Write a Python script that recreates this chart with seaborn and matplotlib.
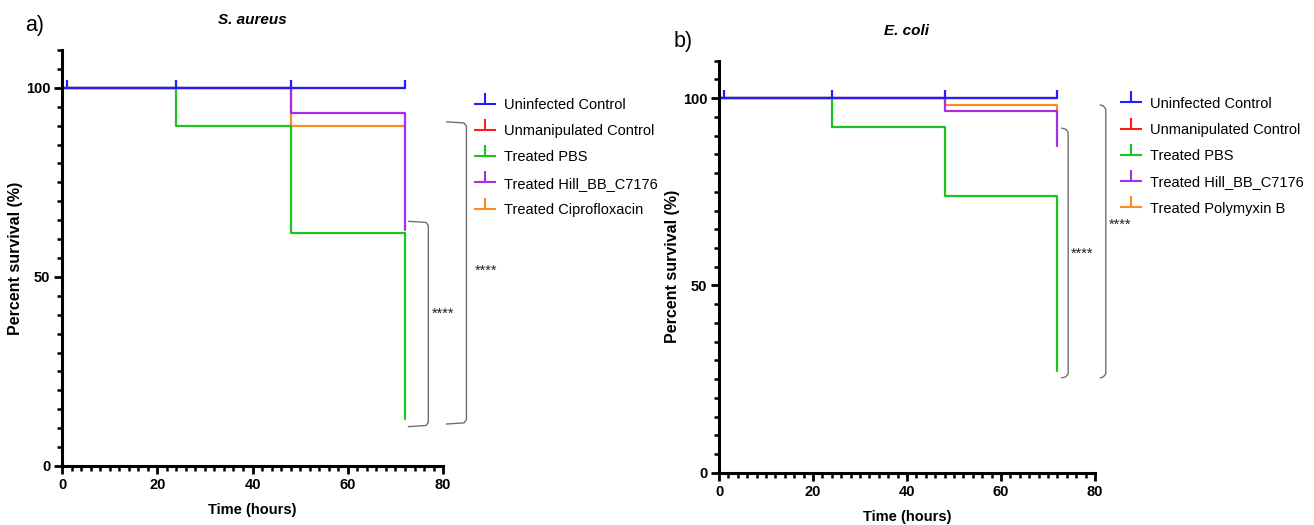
import numpy as np
import pandas as pd
import matplotlib
matplotlib.use("Agg")
import matplotlib.pyplot as plt
from matplotlib.path import Path
from matplotlib.lines import Line2D
from matplotlib.ticker import MultipleLocator
import seaborn as sns

# Kaplan-Meier step points per group
groups_aureus = ["Uninfected Control", "Unmanipulated Control", "Treated PBS",
                 "Treated Hill_BB_C7176", "Treated Ciprofloxacin"]
groups_coli = ["Uninfected Control", "Unmanipulated Control", "Treated PBS",
               "Treated Hill_BB_C7176", "Treated Polymyxin B"]
group_colors = ["#2020ff", "#ff1c1c", "#1ec31e", "#a82ee6", "#ff8a24"]

aureus_times = [[0, 72], [0, 72], [0, 24, 48, 72], [0, 48, 72], [0, 48, 72]]
aureus_surv = [[100, 100], [100, 100], [100, 90, 61.5, 12.5], [100, 93.3, 62.5], [100, 90, 90]]

coli_times = [[0, 72], [0, 72], [0, 24, 48, 72], [0, 48, 72], [0, 48, 72]]
coli_surv = [[100, 100], [100, 100], [100, 92.3, 73.9, 27.2], [100, 96.6, 87.1], [100, 98.2, 96.6]]

censor_times = [1, 24, 48, 72]
censor_surv = [100, 100, 100, 100]

sns.set_style("ticks")
plt.rcParams["font.family"] = ["Liberation Sans", "DejaVu Sans"]
plt.rcParams.update({"text.color": "black", "axes.labelcolor": "black",
                     "xtick.color": "black", "ytick.color": "black",
                     "axes.edgecolor": "black"})

tick_up = Path([(0, 0), (0, 1)], [Path.MOVETO, Path.LINETO])
legend_mark = Path([(-1, 0), (1, 0), (0, 0), (0, 1)],
                   [Path.MOVETO, Path.LINETO, Path.MOVETO, Path.LINETO])


def to_long(groups, times, surv):
    rows = []
    for g, t, s in zip(groups, times, surv):
        for ti, si in zip(t, s):
            rows.append({"grupo": g, "tiempo": ti, "superv": si})
    return pd.DataFrame(rows)


def bracket(ax, xl, xv, yt, yb, color="#707070"):
    xs = [xl, xv - 0.5, xv, xv, xv - 0.5, xl]
    ys = [yt + 0.3, yt, yt - 0.8, yb + 0.8, yb, yb - 0.3]
    ax.plot(xs, ys, color=color, lw=1.0, clip_on=False)


def panel(ax, groups, times, surv, title):
    df = to_long(groups, times, surv)
    pal = dict(zip(groups, group_colors))
    order = [groups[1], groups[4], groups[3], groups[2], groups[0]]
    sns.lineplot(data=df, x="tiempo", y="superv", hue="grupo", hue_order=order,
                 palette=pal, estimator=None, sort=False, drawstyle="steps-post",
                 lw=1.6, legend=False, ax=ax, clip_on=False)
    ax.plot(censor_times, censor_surv, linestyle="none", marker=tick_up, ms=11.5,
            mec=group_colors[0], mew=1.6, fillstyle="none", clip_on=False)

    ax.set_xlim(0, 80)
    ax.set_ylim(0, 110)
    ax.xaxis.set_major_locator(MultipleLocator(20))
    ax.xaxis.set_minor_locator(MultipleLocator(2))
    ax.yaxis.set_major_locator(MultipleLocator(50))
    ax.yaxis.set_minor_locator(MultipleLocator(5))
    ax.set_yticks([0, 50, 100])
    sns.despine(ax=ax)
    for sp in ["left", "bottom"]:
        ax.spines[sp].set_linewidth(2.2)
    ax.tick_params(which="major", direction="out", length=6, width=2, pad=2.5)
    ax.tick_params(which="minor", direction="out", length=3.5, width=1.8)
    for lab in ax.get_xticklabels() + ax.get_yticklabels():
        lab.set_fontweight("bold")
        lab.set_fontsize(10.5)
    ax.set_xlabel("Time (hours)", fontsize=10.5, fontweight="bold", labelpad=8)
    ax.set_ylabel("Percent survival (%)", fontsize=11.5, fontweight="bold", labelpad=2)
    ax.text(0.5, 1.073, title, transform=ax.transAxes, ha="center", va="center",
            fontsize=11, fontweight="bold", fontstyle="italic")

    handles = [Line2D([], [], color=c, marker=legend_mark, linestyle="none", ms=16,
                      mew=1.5, fillstyle="none") for c in group_colors]
    return handles


fig = plt.figure(figsize=(13.14, 5.25), dpi=100)
ax1 = fig.add_axes([0.0472, 0.1124, 0.2900, 0.7924])
ax2 = fig.add_axes([0.5472, 0.0996, 0.2861, 0.7848])

h1 = panel(ax1, groups_aureus, aureus_times, aureus_surv, "S. aureus")
ax1.legend(h1, groups_aureus, loc="upper left", bbox_to_anchor=(1.079, 0.885),
           frameon=False, fontsize=10.5, borderaxespad=0, borderpad=0,
           handlelength=1.6, handletextpad=0.5, labelspacing=0.84)
bracket(ax1, 72.7, 76.9, 64.4, 10.7)
bracket(ax1, 80.7, 84.9, 90.7, 11.4)
ax1.text(77.6, 40.2, "****", fontsize=10.5, color="#222222", va="center", ha="left")
ax1.text(86.6, 51.5, "****", fontsize=10.5, color="#222222", va="center", ha="left")

h2 = panel(ax2, groups_coli, coli_times, coli_surv, "E. coli")
ax2.legend(h2, groups_coli, loc="upper left", bbox_to_anchor=(1.066, 0.913),
           frameon=False, fontsize=10.5, borderaxespad=0, borderpad=0,
           handlelength=1.6, handletextpad=0.5, labelspacing=0.84)
bracket(ax2, 72.9, 74.3, 91.7, 25.6)
bracket(ax2, 81.1, 82.3, 97.9, 25.6)
ax2.text(74.9, 58.4, "****", fontsize=10.5, color="#222222", va="center", ha="left")
ax2.text(83.0, 66.3, "****", fontsize=10.5, color="#222222", va="center", ha="left")

fig.text(35 / 1314, 1 - 25 / 525, "a)", fontsize=15.5, ha="center", va="center")
fig.text(683 / 1314, 1 - 42 / 525, "b)", fontsize=15.5, ha="center", va="center")

fig.savefig("out.png", dpi=100)
